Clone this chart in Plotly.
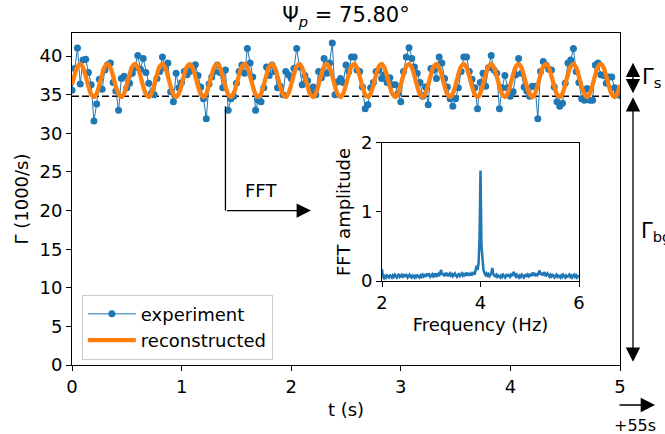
import plotly.graph_objects as go

# ---------------- data ----------------
dt = 0.025
t_exp = [round(i * dt, 3) for i in range(201)]
gamma_exp = [
    35.6, 38.4, 41.05, 36.4, 39.5, 39.6, 37.9, 36.3, 31.6, 33.8,
    37.0, 35.7, 38.2, 38.9, 39.1, 36.6, 35.5, 33.0, 37.1, 37.4,
    35.9, 36.5, 37.8, 38.5, 40.1, 38.3, 39.7, 37.9, 36.5, 35.2,
    35.0, 37.1, 38.0, 39.9, 38.5, 39.1, 35.4, 34.1, 37.8, 35.9,
    36.6, 38.0, 37.6, 38.0, 38.4, 38.9, 37.5, 36.0, 34.5, 31.9,
    36.4, 37.3, 38.0, 38.85, 37.9, 35.9, 38.2, 33.0, 34.5, 34.8,
    36.5, 38.0, 38.85, 37.8, 41.0, 39.1, 37.3, 33.0, 34.3, 34.1,
    35.9, 38.6, 37.5, 38.85, 38.0, 35.9, 36.1, 35.0, 38.0, 37.6,
    37.1, 38.4, 41.0, 38.6, 36.3, 37.5, 36.8, 35.5, 36.0, 35.0,
    38.0, 37.2, 39.7, 37.8, 39.1, 41.7, 35.0, 36.7, 37.1, 36.6,
    38.85, 38.0, 39.9, 39.9, 38.2, 38.0, 36.0, 33.2, 33.7, 35.9,
    36.6, 38.0, 38.2, 37.1, 37.6, 36.6, 37.2, 36.3, 36.3, 35.2,
    34.1, 38.0, 39.9, 41.1, 39.7, 38.6, 37.8, 36.6, 34.8, 36.0,
    33.7, 38.4, 38.2, 37.1, 39.9, 39.1, 37.1, 36.0, 34.5, 33.5,
    34.5, 35.9, 38.0, 39.9, 39.9, 38.0, 37.0, 35.9, 33.2, 36.6,
    37.8, 36.1, 38.5, 40.1, 38.2, 37.8, 33.2, 35.9, 37.5, 35.9,
    34.8, 35.4, 37.6, 39.7, 37.8, 36.0, 35.5, 34.8, 36.1, 36.1,
    31.9, 38.0, 39.3, 38.85, 38.3, 38.2, 36.0, 34.1, 33.5, 33.9,
    36.5, 39.1, 39.5, 41.0, 38.0, 36.6, 34.5, 34.3, 35.8, 34.3,
    34.3, 38.85, 39.1, 37.6, 37.5, 36.5, 37.3, 37.3, 35.9, 35.4,
    34.9,
]
gamma_rec = [
    36.30, 37.62, 38.66, 39.00, 38.52, 37.40, 36.08, 35.04, 34.70, 35.18,
    36.30, 37.62, 38.66, 39.00, 38.52, 37.40, 36.08, 35.04, 34.70, 35.18,
    36.30, 37.62, 38.66, 39.00, 38.52, 37.40, 36.08, 35.04, 34.70, 35.18,
    36.30, 37.62, 38.66, 39.00, 38.52, 37.40, 36.08, 35.04, 34.70, 35.18,
    36.30, 37.62, 38.66, 39.00, 38.52, 37.40, 36.08, 35.04, 34.70, 35.18,
    36.30, 37.62, 38.66, 39.00, 38.52, 37.40, 36.08, 35.04, 34.70, 35.18,
    36.30, 37.62, 38.66, 39.00, 38.52, 37.40, 36.08, 35.04, 34.70, 35.18,
    36.30, 37.62, 38.66, 39.00, 38.52, 37.40, 36.08, 35.04, 34.70, 35.18,
    36.30, 37.62, 38.66, 39.00, 38.52, 37.40, 36.08, 35.04, 34.70, 35.18,
    36.30, 37.62, 38.66, 39.00, 38.52, 37.40, 36.08, 35.04, 34.70, 35.18,
    36.30, 37.62, 38.66, 39.00, 38.52, 37.40, 36.08, 35.04, 34.70, 35.18,
    36.30, 37.62, 38.66, 39.00, 38.52, 37.40, 36.08, 35.04, 34.70, 35.18,
    36.30, 37.62, 38.66, 39.00, 38.52, 37.40, 36.08, 35.04, 34.70, 35.18,
    36.30, 37.62, 38.66, 39.00, 38.52, 37.40, 36.08, 35.04, 34.70, 35.18,
    36.30, 37.62, 38.66, 39.00, 38.52, 37.40, 36.08, 35.04, 34.70, 35.18,
    36.30, 37.62, 38.66, 39.00, 38.52, 37.40, 36.08, 35.04, 34.70, 35.18,
    36.30, 37.62, 38.66, 39.00, 38.52, 37.40, 36.08, 35.04, 34.70, 35.18,
    36.30, 37.62, 38.66, 39.00, 38.52, 37.40, 36.08, 35.04, 34.70, 35.18,
    36.30, 37.62, 38.66, 39.00, 38.52, 37.40, 36.08, 35.04, 34.70, 35.18,
    36.30, 37.62, 38.66, 39.00, 38.52, 37.40, 36.08, 35.04, 34.70, 35.18,
    36.30,
]
gamma_bg_level = 34.8
t_range = [0, 5]

freq = [round(2 + 0.02 * i, 2) for i in range(201)]
fft_amp = [
    0.17, 0.06, 0.04, 0.07, 0.05, 0.08, 0.06, 0.05, 0.09, 0.07,
    0.05, 0.08, 0.06, 0.09, 0.07, 0.05, 0.08, 0.10, 0.06, 0.07,
    0.09, 0.05, 0.07, 0.10, 0.06, 0.08, 0.05, 0.07, 0.09, 0.06,
    0.05, 0.08, 0.07, 0.05, 0.09, 0.06, 0.08, 0.07, 0.05, 0.08,
    0.06, 0.09, 0.07, 0.10, 0.06, 0.08, 0.11, 0.07, 0.09, 0.06,
    0.08, 0.10, 0.07, 0.09, 0.06, 0.11, 0.08, 0.10, 0.07, 0.12,
    0.16, 0.09, 0.11, 0.07, 0.10, 0.08, 0.12, 0.07, 0.09, 0.11,
    0.08, 0.10, 0.07, 0.09, 0.11, 0.08, 0.06, 0.09, 0.10, 0.07,
    0.09, 0.11, 0.08, 0.10, 0.07, 0.09, 0.12, 0.08, 0.10, 0.09,
    0.11, 0.08, 0.10, 0.13, 0.09, 0.14, 0.22, 0.16, 0.25, 0.60,
    1.60, 0.50, 0.24, 0.16, 0.12, 0.09, 0.11, 0.08, 0.10, 0.07,
    0.09, 0.12, 0.19, 0.10, 0.08, 0.07, 0.09, 0.06, 0.08, 0.07,
    0.05, 0.08, 0.06, 0.09, 0.07, 0.05, 0.08, 0.06, 0.10, 0.07,
    0.06, 0.09, 0.07, 0.11, 0.13, 0.08, 0.06, 0.09, 0.07, 0.05,
    0.08, 0.06, 0.09, 0.07, 0.05, 0.08, 0.10, 0.06, 0.09, 0.07,
    0.10, 0.07, 0.09, 0.12, 0.08, 0.10, 0.07, 0.11, 0.09, 0.13,
    0.15, 0.09, 0.12, 0.08, 0.10, 0.13, 0.07, 0.09, 0.11, 0.08,
    0.06, 0.09, 0.07, 0.10, 0.08, 0.05, 0.07, 0.09, 0.06, 0.08,
    0.07, 0.05, 0.08, 0.06, 0.09, 0.07, 0.05, 0.08, 0.06, 0.07,
    0.09, 0.06, 0.08, 0.05, 0.07, 0.09, 0.06, 0.08, 0.05, 0.07,
    0.06,
]

main_yticks = [0, 5, 10, 15, 20, 25, 30, 35, 40]
main_xticks = [0, 1, 2, 3, 4, 5]
inset_xticks = [2, 4, 6]
inset_yticks = [0, 1, 2]

# ---------------- figure ----------------
BLUE = "#1f77b4"
ORANGE = "#ff7f0e"
FONT = "DejaVu Sans"
FS = 18
AS = 2.2   # arrow head size factor

fig = go.Figure()
fig.add_trace(go.Scatter(
    x=t_range, y=[gamma_bg_level, gamma_bg_level], mode="lines",
    line=dict(color="black", width=1.5, dash="7px,3px"),
    showlegend=False, hoverinfo="skip"))
fig.add_trace(go.Scatter(
    x=t_exp, y=gamma_exp, mode="lines+markers", name="experiment",
    line=dict(color=BLUE, width=1),
    marker=dict(color=BLUE, size=7)))
fig.add_trace(go.Scatter(
    x=t_exp, y=gamma_rec, mode="lines", name="reconstructed",
    line=dict(color=ORANGE, width=4.3, shape="spline", smoothing=1.0)))
fig.add_trace(go.Scatter(
    x=freq, y=fft_amp, mode="lines", xaxis="x2", yaxis="y2",
    line=dict(color=BLUE, width=2.5), showlegend=False))

axis_common = dict(showline=True, mirror=True, linecolor="black", linewidth=1,
                   ticks="outside", ticklen=5, tickwidth=1, tickcolor="black",
                   showgrid=False, zeroline=False,
                   tickfont=dict(family=FONT, size=FS, color="black"))

fig.update_layout(
    width=665, height=434,
    margin=dict(l=72, r=45, t=33, b=69),
    paper_bgcolor="white", plot_bgcolor="white",
    font=dict(family=FONT, size=FS, color="black"),
    title=dict(text="Ψ<sub><i>p</i></sub> = 75.80°", x=0.5, xref="paper",
               y=1 - 15 / 434, yanchor="middle", xanchor="center",
               font=dict(family=FONT, size=21, color="black")),
    xaxis=dict(range=t_range, tickvals=main_xticks, domain=[0, 1],
               title=dict(text="t (s)", standoff=7,
                          font=dict(family=FONT, size=FS)), **axis_common),
    yaxis=dict(range=[0, 43], tickvals=main_yticks, domain=[0, 1],
               title=dict(text="Γ (1000/s)", standoff=6,
                          font=dict(family=FONT, size=FS)), **axis_common),
    xaxis2=dict(range=[2, 6], tickvals=inset_xticks, anchor="y2",
                domain=[0.5657, 0.9252],
                title=dict(text="Frequency (Hz)", standoff=6,
                           font=dict(family=FONT, size=FS)), **axis_common),
    yaxis2=dict(range=[0, 2], tickvals=inset_yticks, anchor="x2",
                domain=[0.253, 0.669],
                title=dict(text="FFT amplitude", standoff=5,
                           font=dict(family=FONT, size=FS)), **axis_common),
    legend=dict(x=0.018, y=0.212, xanchor="left", yanchor="top",
                bgcolor="rgba(255,255,255,0.8)", bordercolor="#cccccc",
                borderwidth=1, itemwidth=48, font=dict(family=FONT, size=FS)),
    showlegend=True,
)

# FFT arrow (vertical segment + horizontal arrow)
fig.add_shape(type="line", xref="x", yref="y", x0=1.4, x1=1.4, y0=33.5, y1=20,
              line=dict(color="black", width=1.3))
fig.add_annotation(xref="x", yref="y", axref="x", ayref="y",
                   x=2.18, y=20, ax=1.4, ay=20, text="", showarrow=True,
                   arrowhead=2, arrowsize=AS, arrowwidth=1.3, arrowcolor="black")
fig.add_annotation(xref="x", yref="y", x=1.72, y=22.6, text="FFT",
                   showarrow=False, xanchor="center", yanchor="middle",
                   font=dict(family=FONT, size=FS))

# Γ_s and Γ_bg double arrows outside the axes (paper coords + pixel tails)
x_arr = 1.0237
fig.add_annotation(xref="paper", yref="paper", axref="pixel", ayref="pixel",
                   x=x_arr, y=0.9105, ax=0, ay=32,
                   text="", showarrow=True, arrowside="end+start",
                   arrowhead=2, startarrowhead=2, arrowsize=AS, startarrowsize=AS,
                   arrowwidth=1.3, arrowcolor="black")
fig.add_annotation(xref="paper", yref="paper", axref="pixel", ayref="pixel",
                   x=x_arr, y=0.8063, ax=0, ay=266,
                   text="", showarrow=True, arrowside="end+start",
                   arrowhead=2, startarrowhead=2, arrowsize=AS, startarrowsize=AS,
                   arrowwidth=1.3, arrowcolor="black")
fig.add_annotation(xref="paper", yref="y", x=1.037, y=37.2, xanchor="left",
                   yanchor="middle", text="Γ<sub>s</sub>", showarrow=False,
                   font=dict(family=FONT, size=21))
fig.add_annotation(xref="paper", yref="y", x=1.035, y=17.2, xanchor="left",
                   yanchor="middle", text="Γ<sub>bg</sub>", showarrow=False,
                   font=dict(family=FONT, size=21))

# +55s arrow
fig.add_annotation(xref="paper", yref="paper", axref="pixel", ayref="pixel",
                   x=1.0639, y=-0.1205, ax=-37, ay=0, text="", showarrow=True,
                   arrowhead=2, arrowsize=AS, arrowwidth=1.3, arrowcolor="black")
fig.add_annotation(xref="paper", yref="paper", x=1.027, y=-0.181,
                   xanchor="center", yanchor="middle",
                   text="+55s", showarrow=False, font=dict(family=FONT, size=16))

fig.write_html("out.html")
